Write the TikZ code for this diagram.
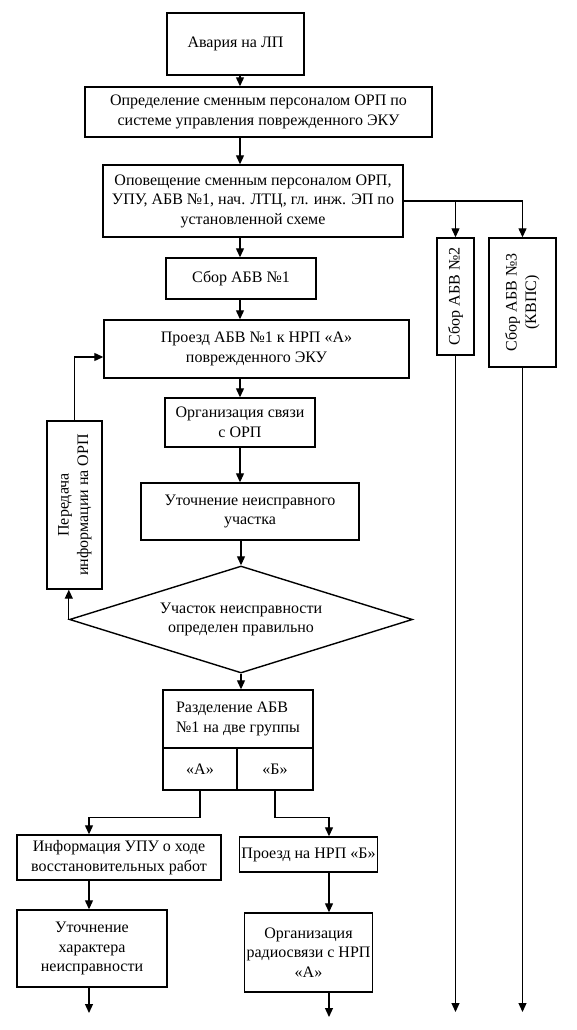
\documentclass[tikz,border=0pt]{standalone}
\usepackage{fontspec}
\setmainfont{Liberation Serif}
\usetikzlibrary{arrows.meta,shapes.geometric,calc}
\begin{document}
\begin{tikzpicture}[x=1pt,y=-1pt,
  every node/.style={font=\fontsize{16}{19.5}\selectfont},
  box/.style={draw, line width=1.4pt, rectangle, inner sep=2pt, align=center},
  arr/.style={line width=1.2pt, -{Triangle[length=9pt,width=8pt]}}]
\useasboundingbox (0,0) rectangle (576,1030);
\fill[white] (0,0) rectangle (576,1030);

\node[box, minimum width=137pt, minimum height=62pt] (b1) at (235.5,44) {Авария на ЛП};
\node[box, minimum width=347pt, minimum height=50pt] (b2) at (258.5,112) {Определение сменным персоналом ОРП по\\системе управления поврежденного ЭКУ};
\node[box, minimum width=300pt, minimum height=72pt] (b3) at (253,201) {Оповещение сменным персоналом ОРП,\\УПУ, АБВ №1, нач. ЛТЦ, гл. инж. ЭП по\\установленной схеме};
\node[box, minimum width=37pt, minimum height=117pt] (a2) at (455.5,296.5) {\rotatebox{90}{Сбор АБВ №2}};
\node[box, minimum width=67pt, minimum height=129pt] (a3) at (522.5,302.5) {\rotatebox{90}{\begin{tabular}{@{}c@{}}Сбор АБВ №3\\(КВПС)\end{tabular}}};
\node[box, minimum width=150pt, minimum height=41pt] (s1) at (241,278.5) {Сбор АБВ №1};
\node[box, minimum width=305pt, minimum height=58pt] (pr) at (256.5,349) {Проезд АБВ №1 к НРП «А»\\поврежденного ЭКУ};
\node[box, minimum width=150pt, minimum height=49pt] (org) at (240,422.5) {Организация связи\\с ОРП};
\node[box, minimum width=218pt, minimum height=57pt] (ut) at (250,511.5) {Уточнение неисправного\\участка};
\node[box, minimum width=55pt, minimum height=168pt] (per) at (74.5,505) {\rotatebox{90}{\begin{tabular}{@{}c@{}}Передача\\информации на ОРП\end{tabular}}};
\node[draw, diamond, aspect=3.17, minimum width=343pt, minimum height=107pt, inner sep=0pt, line width=1.4pt, align=center] (dia) at (241,619.5) {Участок неисправности\\определен правильно};
\node[box, minimum width=150pt, minimum height=58pt, align=left] (rz) at (238,719) {Разделение АБВ\\№1 на две группы};
\node[box, minimum width=74pt, minimum height=42pt] (ca) at (200,769) {«А»};
\node[box, minimum width=76pt, minimum height=42pt] (cb) at (275,769) {«Б»};
\node[box, minimum width=204pt, minimum height=45pt] (inf) at (119,857.5) {Информация УПУ о ходе\\восстановительных работ};
\node[box, minimum width=150pt, minimum height=77pt] (uh) at (92,948.5) {Уточнение\\характера\\неисправности};
\node[box, minimum width=119pt, minimum height=35pt] (pb) at (308.5,854.5) {Проезд на НРП «Б»};
\node[box, minimum width=119pt, minimum height=79pt] (orad) at (308.5,952.5) {Организация\\радиосвязи с НРП\\«А»};

\coordinate (col) at (240,0);
\coordinate (colA) at (89,0);
\coordinate (colB) at (329,0);
\coordinate (e2) at (455.5,1012);
\coordinate (e3) at (522.5,1012);
\coordinate (eA) at (89,1013);
\coordinate (eB) at (329,1017);

\draw[arr] (b1.south -| col) -- (b2.north -| col);
\draw[arr] (b2.south -| col) -- (b3.north -| col);
\draw[arr] (b3.south -| col) -- (s1.north -| col);
\draw[arr] (s1.south -| col) -- (pr.north -| col);
\draw[arr] (pr.south -| col) -- (org.north -| col);
\draw[arr] (org.south -| col) -- (ut.north -| col);
\draw[arr] (ut.south -| dia.north) -- (dia.north);
\draw[arr] (dia.south) -- (rz.north -| dia.south);

\draw[arr] (b3.east) -| (a3.north);
\draw[arr] (b3.east -| a2.north) -- (a2.north);
\draw[arr] (a2.south) -- (e2);
\draw[arr] (a3.south) -- (e3);

\draw[arr] (dia.west) -- (dia.west |- per.south);
\draw[arr] (per.north) |- ($(pr.west)+(0,8)$);

\draw[arr] (ca.south) -- ++(0,27) -| (inf.north -| colA);
\draw[arr] (inf.south -| colA) -- (uh.north -| colA);
\draw[arr] (uh.south -| colA) -- (eA);
\draw[arr] (cb.south) -- ++(0,27) -| (pb.north -| colB);
\draw[arr] (pb.south -| colB) -- (orad.north -| colB);
\draw[arr] (orad.south -| colB) -- (eB);
\end{tikzpicture}
\end{document}
